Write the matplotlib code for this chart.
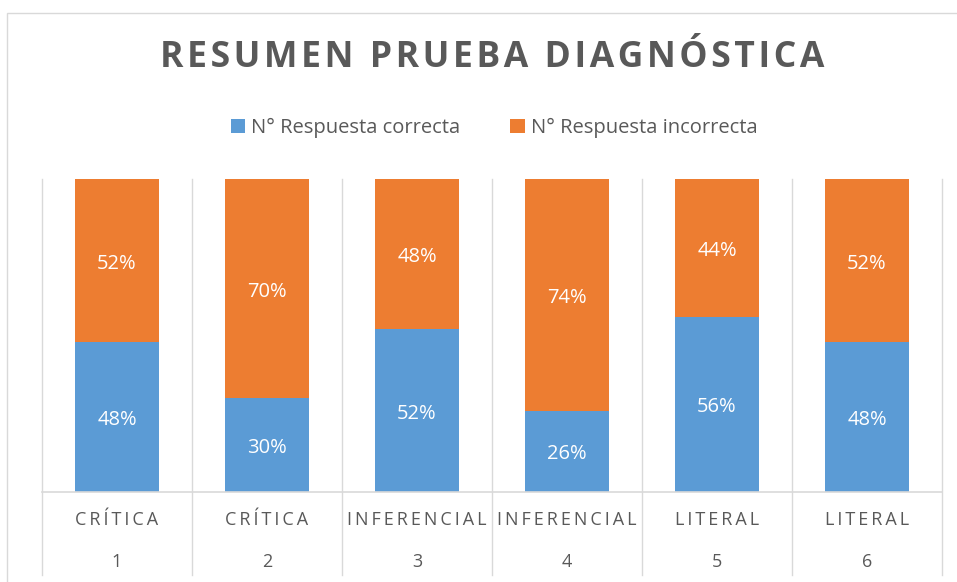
import matplotlib
matplotlib.use('Agg')
import matplotlib.pyplot as plt
from matplotlib.patches import Rectangle
from matplotlib.lines import Line2D

# datos
categorias = ['CRÍTICA', 'CRÍTICA', 'INFERENCIAL', 'INFERENCIAL', 'LITERAL', 'LITERAL']
numeros = ['1', '2', '3', '4', '5', '6']
correcta = [48, 30, 52, 26, 56, 48]
incorrecta = [52, 70, 48, 74, 44, 52]

AZUL = '#5b9bd5'
NARANJA = '#ed7d31'
GRIS = '#595959'
FAM = ['Open Sans', 'DejaVu Sans']

W, H = 957, 582
fig = plt.figure(figsize=(W / 100, H / 100), dpi=100)

# marco exterior
fig.patches.append(Rectangle((7 / W, -0.1), 1.2, 1 - 13 / H + 0.1, transform=fig.transFigure,
                             fill=False, edgecolor='#d9d9d9', lw=1))

ax = fig.add_axes([42 / W, (H - 492) / H, 900 / W, 313 / H])
x = list(range(len(categorias)))
ancho = 0.56
ax.bar(x, correcta, ancho, color=AZUL, label='N° Respuesta correcta')
ax.bar(x, incorrecta, ancho, bottom=correcta, color=NARANJA, label='N° Respuesta incorrecta')

for i in x:
    ax.text(i, correcta[i] / 2 - 1, f'{correcta[i]}%', ha='center', va='center',
            color='white', fontsize=14.5, family=FAM)
    ax.text(i, correcta[i] + incorrecta[i] / 2 - 1, f'{incorrecta[i]}%', ha='center', va='center',
            color='white', fontsize=14.5, family=FAM)

ax.set_xlim(-0.5, 5.5)
ax.set_ylim(0, 100)
ax.axis('off')

# eje horizontal y separadores
ax.add_line(Line2D([-0.5, 5.5], [0, 0], color='#d9d9d9', lw=1.2, clip_on=False))
y_bajo = -(575 - 492) / 313 * 100
for s in range(7):
    ax.add_line(Line2D([s - 0.5, s - 0.5], [100, y_bajo], color='#d9d9d9', lw=1, clip_on=False))

# etiquetas del eje
for i in x:
    ax.text(i, -(520 - 492) / 313 * 100, '\u2009'.join(categorias[i]), ha='center', va='center',
            color=GRIS, fontsize=13, family=FAM)
    ax.text(i, -(562 - 492) / 313 * 100, numeros[i], ha='center', va='center',
            color=GRIS, fontsize=13, family=FAM)

fig.text(492 / W, 1 - 58 / H, '\u200a'.join('RESUMEN PRUEBA DIAGNÓSTICA'),
         ha='center', va='center', color=GRIS, fontsize=25.6, fontweight='bold', family=FAM)

fig.legend(loc='center', bbox_to_anchor=(494 / W, 1 - 128 / H), ncol=2, frameon=False,
           prop={'family': FAM, 'size': 14.5}, labelcolor=GRIS, handlelength=0.7,
           handleheight=0.7, handletextpad=0.3, columnspacing=2.5)

fig.savefig('out.png', dpi=100)
